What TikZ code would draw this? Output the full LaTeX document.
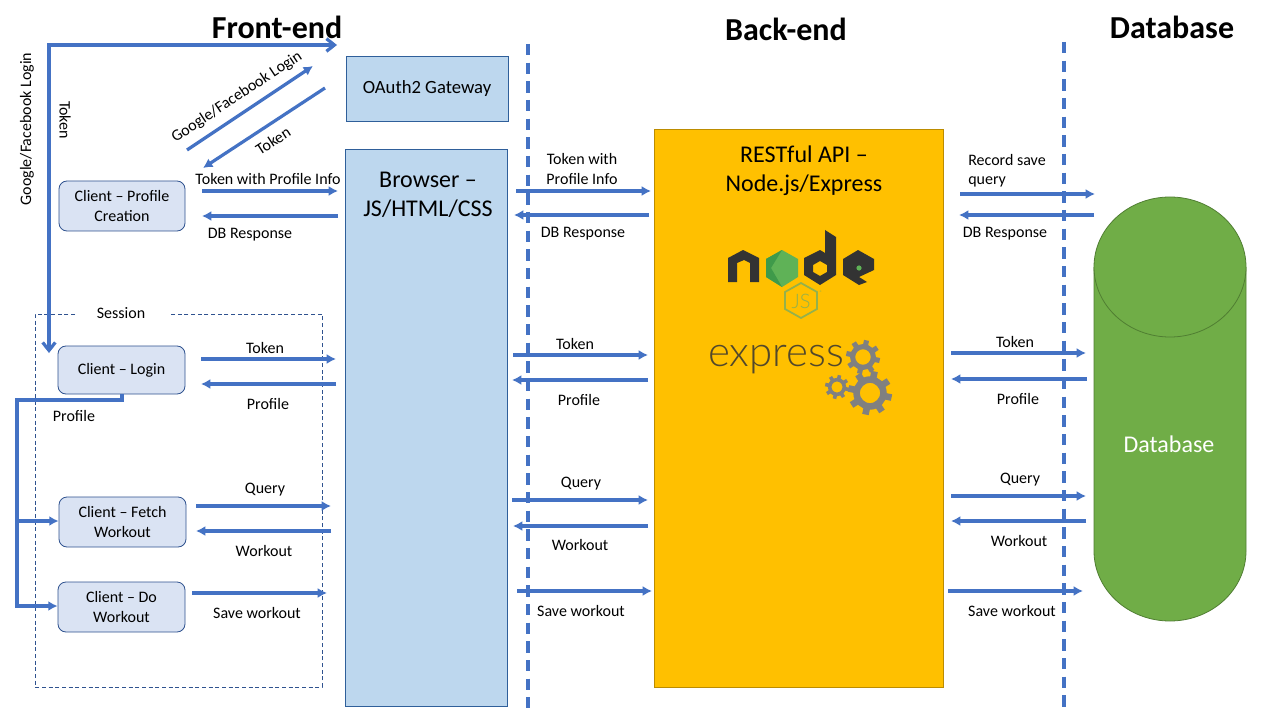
\documentclass[tikz,border=0pt]{standalone}
\usepackage{fontspec}
\setmainfont{Carlito}
\newfontfamily\thinfont{Lato Light}
\usetikzlibrary{arrows.meta}
\definecolor{flowblue}{HTML}{4472C4}
\definecolor{cbfill}{HTML}{DAE3F3}
\definecolor{cbline}{HTML}{2F528F}
\definecolor{skyfill}{HTML}{BDD7EE}
\definecolor{skyline}{HTML}{2F5F9A}
\definecolor{apifill}{HTML}{FFC000}
\definecolor{apiline}{HTML}{BC8C00}
\definecolor{dbfill}{HTML}{70AD47}
\definecolor{dbline}{HTML}{507E32}
\definecolor{nodedark}{HTML}{333333}
\definecolor{nodegreen}{HTML}{5FB257}
\definecolor{nodedeep}{HTML}{3F9A4A}
\definecolor{nodelime}{HTML}{94B14C}
\definecolor{gearg}{HTML}{808080}
\newcommand{\conn}[3]{\coordinate (#1-a) at (#2);\coordinate (#1-b) at (#3);\draw[flow] (#1-a) -- (#1-b);}
\newcommand{\gearshape}[3]{%
 \pgfmathsetmacro{\gw}{#3*0.3*0.75}
 \draw[gearg,line width=\gw pt] (#1,#2) circle[radius=#3*0.61];
 \foreach \a in {0,45,...,315}{
  \draw[gearg,line width=\gw pt] ({#1+#3*0.65*cos(\a+12)},{#2+#3*0.65*sin(\a+12)}) -- ({#1+#3*cos(\a+12)},{#2+#3*sin(\a+12)});
 }
}
\tikzset{
 x=0.75pt,y=-0.75pt,
 flow/.style={draw=flowblue,line width=2.4pt,-{Latex[length=7pt,width=7.5pt]}},
 flowtop/.style={draw=flowblue,line width=2.4pt,{Straight Barb[length=6pt,width=9.5pt,line width=2.4pt]}-{Straight Barb[length=6pt,width=9.5pt,line width=2.4pt]}},
 txt/.style={font=\fontsize{12}{14.4}\selectfont,text=black,align=center,inner sep=0pt},
 head/.style={font=\fontsize{24}{28}\selectfont\bfseries,text=black,inner sep=0pt},
 client/.style={draw=cbline,fill=cbfill,rounded corners=6pt,line width=0.6pt,align=center,inner sep=0pt,font=\fontsize{12}{14.4}\selectfont},
 blockb/.style={draw=skyline,fill=skyfill,line width=0.6pt,align=center,inner sep=0pt},
 big/.style={font=\fontsize{18}{21.6}\selectfont,align=center,inner sep=0pt},
 sep/.style={draw=flowblue,line width=2.4pt,dash pattern=on 8.5pt off 5.5pt},
}
\begin{document}
\begin{tikzpicture}
\useasboundingbox (0,0) rectangle (1280,720);
\fill[white] (0,0) rectangle (1280,720);
% headings
\node[head] (hfront) at (277,27) {Front-end};
\node[head] (hback) at (786,29) {Back-end};
\node[head] (hdb) at (1172,27) {Database};
% session box
\draw[cbline,line width=0.6pt,densely dashed] (75,314) -- (35,314) -- (35,687) -- (322,687) -- (322,314) -- (169,314);
\node[txt] (session) at (121,313) {Session};
% blocks
\node[blockb,minimum width=121.5pt,minimum height=48.75pt,font=\fontsize{14}{16}\selectfont] (oauth) at (427,88.5) {OAuth2 Gateway};
\path[draw=skyline,fill=skyfill,line width=0.6pt] (345.5,149) rectangle (507.5,706);
\node[big] (browser) at (428,195) {Browser --\\JS/HTML/CSS};
\path[draw=apiline,fill=apifill,line width=0.6pt] (654,129) rectangle (943,687);
\node[big] (api) at (804,171) {RESTful API --\\Node.js/Express};
% separators
\coordinate (s1a) at (528,44);\coordinate (s1b) at (528,708);
\coordinate (s2a) at (1064,42);\coordinate (s2b) at (1064,708);
\draw[sep] (s1a) -- (s1b);
\draw[sep] (s2a) -- (s2b);
% database
\path[fill=dbfill,draw=dbline,line width=0.6pt] (1094,267) -- (1094,551) arc[start angle=180,end angle=360,x radius=76,y radius=-70] -- (1246,267);
\path[fill=dbfill,draw=dbline,line width=0.6pt] (1170,267) ellipse[x radius=76,y radius=70];
\node[big,text=white] (dbtext) at (1169,444) {Database};
% clients
\node[client,minimum width=94.5pt,minimum height=37.5pt] (cprofile) at (122,206) {Client -- Profile\\Creation};
\node[client,minimum width=95.25pt,minimum height=36pt] (clogin) at (121.5,370) {Client -- Login};
\node[client,minimum width=95.25pt,minimum height=37.5pt] (cfetch) at (122.5,522) {Client -- Fetch\\Workout};
\node[client,minimum width=95.25pt,minimum height=37.5pt] (cdo) at (121.5,607) {Client -- Do\\Workout};
% oauth flow
\coordinate (ga) at (337,45);\coordinate (gb) at (49,353);
\draw[flowtop] (ga) -- (49,45) -- (gb);
\conn{d1}{187,150}{313,66}
\conn{d2}{325,88}{203,168}
\node[txt,rotate=33.5] (lg) at (237,97) {Google/Facebook Login};
\node[txt,rotate=33] (lt) at (273,141) {Token};
\node[txt,rotate=90] (lgv) at (27,129) {Google/Facebook Login};
\node[txt,rotate=-90] (ltv) at (65,120) {Token};
% session tree
\coordinate (t0) at (122,394);\coordinate (t1) at (17,400);\coordinate (t2) at (17,606);\coordinate (t3) at (17,521);
\draw[flow] (t0) |- (t1) -- (t2) -- (cdo.west |- t2);
\draw[flow] (t3) -- (cfetch.west |- t3);
\node[txt] (lprof) at (74,416) {Profile};
% left arrows
\conn{a1}{202,191}{338,191}
\conn{a2}{338,216}{202,216}
\node[txt] (la1) at (268,179) {Token with Profile Info};
\node[txt] (la2) at (250,235) {DB Response};
\conn{a3}{201,359}{336,359}
\conn{a4}{336,384}{201,384}
\node[txt] (la3) at (265,348) {Token};
\node[txt] (la4) at (268,404) {Profile};
\conn{a5}{196,506}{331,506}
\conn{a6}{331,531}{196,531}
\node[txt] (la5) at (265,490) {Query};
\node[txt] (la6) at (264,551) {Workout};
\conn{a7}{192,593}{327,593}
\node[txt] (la7) at (257,613) {Save workout};
% middle arrows
\conn{b1}{516,191}{651,191}
\conn{b2}{649,215}{514,215}
\node[txt] (lb1) at (582,169) {Token with\\Profile Info};
\node[txt] (lb2) at (583,234) {DB Response};
\conn{b3}{513,355}{648,355}
\conn{b4}{648,380}{512,380}
\node[txt] (lb3) at (575,344) {Token};
\node[txt] (lb4) at (579,400) {Profile};
\conn{b5}{512,500}{648,500}
\conn{b6}{648,526}{513,526}
\node[txt] (lb5) at (581,484) {Query};
\node[txt] (lb6) at (580,545) {Workout};
\conn{b7}{517,591}{652,591}
\node[txt] (lb7) at (581,611) {Save workout};
% right arrows
\conn{c1}{960,194}{1095,194}
\conn{c2}{1094,215}{959,215}
\node[txt,align=left] (lc1) at (1007,171) {Record save\\query};
\node[txt] (lc2) at (1005,234) {DB Response};
\conn{c3}{951,353}{1086,353}
\conn{c4}{1087,379}{951,379}
\node[txt] (lc3) at (1015,342) {Token};
\node[txt] (lc4) at (1018,399) {Profile};
\conn{c5}{951,496}{1086,496}
\conn{c6}{1086,521}{951,521}
\node[txt] (lc5) at (1020,480) {Query};
\node[txt] (lc6) at (1019,541) {Workout};
\conn{c7}{948,591}{1083,591}
\node[txt] (lc7) at (1012,611) {Save workout};
% node logo
\begin{scope}[even odd rule]
\fill[nodedark] (728,258) -- (743,250) -- (759,258) -- (759,282) -- (750,282) -- (750,263) -- (744,260) -- (737,263) -- (737,282) -- (728,282) -- cycle;
\fill[nodedark] (825,230) -- (836,237) -- (836,275) -- (820,285) -- (804,275) -- (804,258) -- (820,250) -- (825,253) -- cycle (820,261) -- (813,265) -- (813,272) -- (820,276) -- (827,272) -- (827,265) -- cycle;
\fill[nodedark] (858,250) -- (874,259) -- (874,270) -- (859,277) -- (867,282) -- (859,285) -- (843,275) -- (843,259) -- cycle;
\end{scope}
\fill[nodegreen] (782,250) -- (798,259) -- (798,277) -- (782,287) -- (766,277) -- (766,259) -- cycle;
\fill[nodedeep] (782,250) -- (766,259) -- (766,277) -- (782,287) -- (771,268) -- cycle;
\fill[nodegreen] (859,268) circle[radius=2.6];
\draw[nodelime,line width=1.3pt] (801,283) -- (817,292) -- (817,309) -- (801,318) -- (785,309) -- (785,292) -- cycle;
\node[font=\thinfont\fontsize{15}{16}\selectfont,text=nodelime,inner sep=0pt] (jslogo) at (801,301) {JS};
\node[font=\fontsize{4}{5}\selectfont,text=nodelime,inner sep=0pt] (jsreg) at (821,293) {®};
% express logo
\node[font=\thinfont\fontsize{31.5}{32}\selectfont,text=nodedark!85!apifill,inner sep=0pt,anchor=base west] (expresslogo) at (708,366) {express};
\gearshape{863}{357}{17}
\gearshape{837}{387}{12}
\gearshape{870}{393}{22}
\end{tikzpicture}
\end{document}
